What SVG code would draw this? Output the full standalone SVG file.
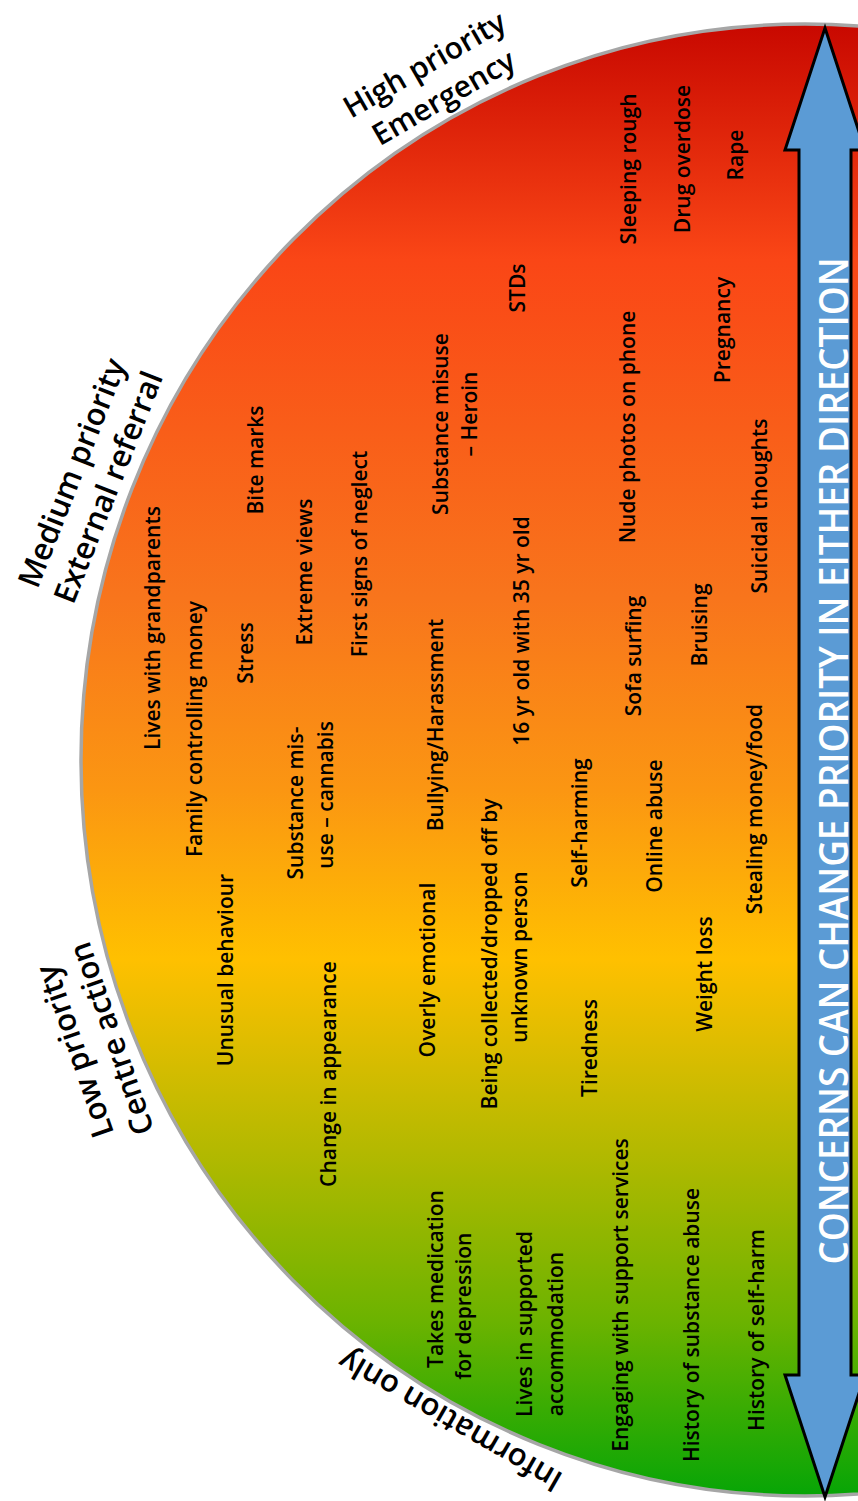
<svg xmlns="http://www.w3.org/2000/svg" width="858" height="1501" viewBox="0 0 858 1501">
<defs>
<linearGradient id="heat" gradientUnits="userSpaceOnUse" x1="0" y1="24" x2="0" y2="1497">
<stop offset="0" stop-color="#C80800"/>
<stop offset="0.16" stop-color="#FA4616"/>
<stop offset="0.39" stop-color="#F8751C"/>
<stop offset="0.52" stop-color="#FB9612"/>
<stop offset="0.635" stop-color="#FFC000"/>
<stop offset="0.764" stop-color="#B4B900"/>
<stop offset="0.88" stop-color="#6CB300"/>
<stop offset="1" stop-color="#06A506"/>
</linearGradient>
<style>
.t{font-family:"Open Sans","Noto Sans","DejaVu Sans",sans-serif;font-size:21px;font-weight:600;fill:#000;text-anchor:middle}
.lbl{font-family:"Open Sans","Noto Sans","DejaVu Sans",sans-serif;font-size:31px;font-weight:600;fill:#000;text-anchor:middle}
.arrowtxt{font-family:"Open Sans","Noto Sans","DejaVu Sans",sans-serif;font-size:39px;font-weight:600;fill:#fff;text-anchor:middle}
</style>
</defs>
<rect width="858" height="1501" fill="#fff"/>
<g id="half-circle">
<ellipse cx="805" cy="760" rx="724" ry="736" fill="url(#heat)" stroke="#A6A6A6" stroke-width="3.5"/>
</g>
<g id="connectors">
<polygon points="825,28 865,150 851,150 851,1375 865,1375 825,1497 785,1375 799,1375 799,150 785,150" fill="#5B9BD5" stroke="#000" stroke-width="3" stroke-linejoin="miter"/>
<text class="arrowtxt" transform="translate(848,761) rotate(-90)" textLength="1007" lengthAdjust="spacingAndGlyphs">CONCERNS CAN CHANGE PRIORITY IN EITHER DIRECTION</text>
</g>
<g id="label-high">
<g transform="translate(434,81) rotate(-30)">
<text class="lbl" y="-19" dy="0.35em" style="font-size:30px">High priority</text>
<text class="lbl" y="19" dy="0.35em" style="font-size:30px">Emergency</text>
</g>
</g>
<g id="label-medium">
<g transform="translate(90,480) rotate(-68.5)">
<text class="lbl" y="-19.5" dy="0.35em">Medium priority</text>
<text class="lbl" y="19.5" dy="0.35em">External referral</text>
</g>
</g>
<g id="label-low">
<g transform="translate(93,1045) rotate(-109)">
<text class="lbl" y="-19.5" dy="0.35em">Low priority</text>
<text class="lbl" y="19.5" dy="0.35em">Centre action</text>
</g>
</g>
<g id="label-info">
<g transform="translate(450,1421) rotate(-150)">
<text class="lbl" dy="0.35em">Information only</text>
</g>
</g>
<g id="n-grandparents"><text class="t" transform="translate(160,628) rotate(-90)">Lives with grandparents</text></g>
<g id="n-family-money"><text class="t" transform="translate(202,729) rotate(-90)">Family controlling money</text></g>
<g id="n-stress"><text class="t" transform="translate(253,653) rotate(-90)">Stress</text></g>
<g id="n-bite"><text class="t" transform="translate(263,460) rotate(-90)">Bite marks</text></g>
<g id="n-extreme"><text class="t" transform="translate(312,572) rotate(-90)">Extreme views</text></g>
<g id="n-cannabis"><text class="t" transform="translate(303,803) rotate(-90)">Substance mis-</text><text class="t" transform="translate(333,795) rotate(-90)">use – cannabis</text></g>
<g id="n-neglect"><text class="t" transform="translate(367,554) rotate(-90)">First signs of neglect</text></g>
<g id="n-heroin"><text class="t" transform="translate(448,424) rotate(-90)">Substance misuse</text><text class="t" transform="translate(477,414) rotate(-90)">– Heroin</text></g>
<g id="n-stds"><text class="t" transform="translate(525,288) rotate(-90)">STDs</text></g>
<g id="n-unusual"><text class="t" transform="translate(233,970) rotate(-90)">Unusual behaviour</text></g>
<g id="n-appearance"><text class="t" transform="translate(336,1074) rotate(-90)">Change in appearance</text></g>
<g id="n-emotional"><text class="t" transform="translate(435,970) rotate(-90)">Overly emotional</text></g>
<g id="n-bullying"><text class="t" transform="translate(443,725) rotate(-90)">Bullying/Harassment</text></g>
<g id="n-collected"><text class="t" transform="translate(497,954) rotate(-90)">Being collected/dropped off by</text><text class="t" transform="translate(527,957) rotate(-90)">unknown person</text></g>
<g id="n-age-gap"><text class="t" transform="translate(529,631) rotate(-90)">16 yr old with 35 yr old</text></g>
<g id="n-self-harming"><text class="t" transform="translate(587,823) rotate(-90)">Self-harming</text></g>
<g id="n-tiredness"><text class="t" transform="translate(597,1048) rotate(-90)">Tiredness</text></g>
<g id="n-sofa"><text class="t" transform="translate(641,656) rotate(-90)">Sofa surfing</text></g>
<g id="n-nude"><text class="t" transform="translate(635,427) rotate(-90)">Nude photos on phone</text></g>
<g id="n-sleeping"><text class="t" transform="translate(636,169) rotate(-90)">Sleeping rough</text></g>
<g id="n-overdose"><text class="t" transform="translate(690,159) rotate(-90)">Drug overdose</text></g>
<g id="n-rape"><text class="t" transform="translate(743,155) rotate(-90)">Rape</text></g>
<g id="n-pregnancy"><text class="t" transform="translate(730,330) rotate(-90)">Pregnancy</text></g>
<g id="n-suicidal"><text class="t" transform="translate(767,506) rotate(-90)">Suicidal thoughts</text></g>
<g id="n-bruising"><text class="t" transform="translate(707,625) rotate(-90)">Bruising</text></g>
<g id="n-online"><text class="t" transform="translate(662,826) rotate(-90)">Online abuse</text></g>
<g id="n-stealing"><text class="t" transform="translate(762,809) rotate(-90)">Stealing money/food</text></g>
<g id="n-weight"><text class="t" transform="translate(712,974) rotate(-90)">Weight loss</text></g>
<g id="n-medication"><text class="t" transform="translate(443,1279) rotate(-90)">Takes medication</text><text class="t" transform="translate(471,1306) rotate(-90)">for depression</text></g>
<g id="n-supported"><text class="t" transform="translate(532,1324) rotate(-90)">Lives in supported</text><text class="t" transform="translate(563,1334) rotate(-90)">accommodation</text></g>
<g id="n-engaging"><text class="t" transform="translate(628,1295) rotate(-90)">Engaging with support services</text></g>
<g id="n-hist-substance"><text class="t" transform="translate(699,1325) rotate(-90)">History of substance abuse</text></g>
<g id="n-hist-self-harm"><text class="t" transform="translate(764,1330) rotate(-90)">History of self-harm</text></g>
</svg>
